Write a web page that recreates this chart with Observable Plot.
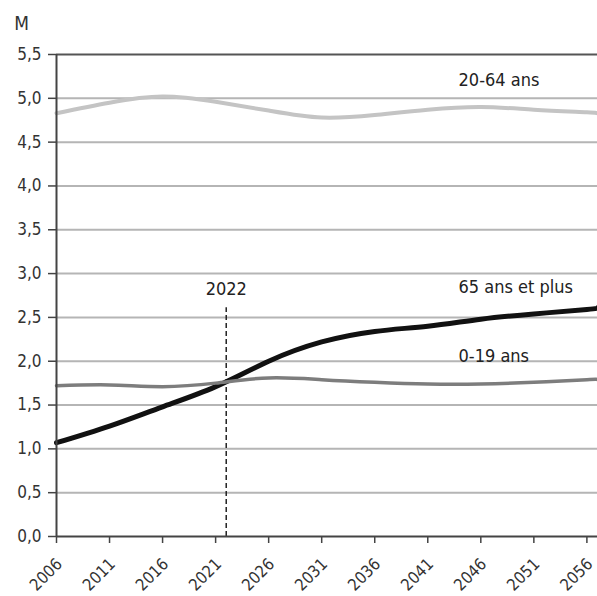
<!DOCTYPE html>
<html>
<head>
<meta charset="utf-8">
<script src="https://cdn.jsdelivr.net/npm/d3@7"></script>
<script src="https://cdn.jsdelivr.net/npm/@observablehq/plot@0.6"></script>
<style>
  html, body { margin: 0; padding: 0; background: #fff; }
  #chart svg { display: block; }
</style>
</head>
<body>
<div id="chart"></div>
<script>
const years = [2006, 2011, 2016, 2021, 2026, 2031, 2036, 2041, 2046, 2051, 2056, 2057];
const age2064 = [4.83, 4.95, 5.02, 4.96, 4.86, 4.78, 4.81, 4.87, 4.90, 4.87, 4.84, 4.83];
const age65 = [1.07, 1.26, 1.48, 1.71, 2.00, 2.22, 2.34, 2.40, 2.48, 2.54, 2.59, 2.61];
const age019 = [1.72, 1.73, 1.71, 1.75, 1.81, 1.79, 1.76, 1.74, 1.74, 1.76, 1.79, 1.79];

const xTicks = [2006, 2011, 2016, 2021, 2026, 2031, 2036, 2041, 2046, 2051, 2056];
const yTicks = [0, 0.5, 1, 1.5, 2, 2.5, 3, 3.5, 4, 4.5, 5, 5.5];

const seriesNames = ["20-64 ans", "65 ans et plus", "0-19 ans"];
const seriesValues = [age2064, age65, age019];
const seriesColors = ["#c4c4c4", "#111111", "#7d7d7d"];
const seriesWidths = [4, 5, 3.5];

// label anchor positions, in data units (year, millions)
const labelYears = [2043.9, 2043.9, 2043.9];
const labelValues = [5.21, 2.84, 2.06];

const markerYear = 2022;
const markerTop = 2.61;
const markerLabelValue = 2.82;

const fmt = d => d3.format(".1f")(d).replace(".", ",");
const font = '"Liberation Sans Narrow", "DejaVu Sans Condensed", "Arial Narrow", sans-serif';

const rows = [];
seriesNames.forEach((name, i) => {
  years.forEach((yr, j) => rows.push({series: name, year: yr, value: seriesValues[i][j]}));
});
const labels = seriesNames.map((name, i) => ({label: name, year: labelYears[i], value: labelValues[i]}));

const chart = Plot.plot({
  width: 597,
  height: 596,
  marginLeft: 56,
  marginRight: 0,
  marginTop: 54,
  marginBottom: 60,
  style: {fontFamily: font, fontSize: "17px", color: "#333", background: "#fff"},
  x: {domain: [2006, 2057]},
  y: {domain: [0, 5.5]},
  marks: [
    Plot.ruleY(yTicks.filter(d => d > 0 && d < 5.5), {stroke: "#b5b5b5", strokeWidth: 2}),
    Plot.ruleY([5.5], {stroke: "#555", strokeWidth: 2}),
    Plot.axisY({ticks: yTicks, tickFormat: fmt, tickSize: 8, tickPadding: 7, stroke: "#444", strokeWidth: 1.5, fill: "#333", fontSize: 17, label: null}),
    Plot.ruleX(xTicks, {x: d => d, y1: 0, y2: 0, insetBottom: -7, stroke: "#444", strokeWidth: 1.5}),
    Plot.axisX({ticks: xTicks, tickFormat: d => String(d), tickSize: 0, tickRotate: -45, dx: 3, dy: 13, fill: "#333", fontSize: 16.5, label: null}),
    Plot.ruleX([{year: markerYear, top: markerTop}], {x: "year", y1: 0, y2: "top", stroke: "#222", strokeWidth: 1.5, strokeDasharray: "5,3"}),
    Plot.text([{year: markerYear, v: markerLabelValue}], {x: "year", y: "v", text: d => String(d.year), fontSize: 18, fill: "#222", textAnchor: "middle"}),
    Plot.line(rows, {x: "year", y: "value", z: "series", stroke: d => seriesColors[seriesNames.indexOf(d.series)], strokeWidth: d => seriesWidths[seriesNames.indexOf(d.series)], curve: "natural"}),
    Plot.ruleX([2006], {stroke: "#444", strokeWidth: 2}),
    Plot.ruleY([0], {stroke: "#444", strokeWidth: 2}),
    Plot.text(labels, {x: "year", y: "value", text: "label", textAnchor: "start", fontSize: 18, fill: "#222"}),
    Plot.text(["M"], {frameAnchor: "top-left", dx: -35, dy: -38, fontSize: 19, fill: "#333", textAnchor: "middle"})
  ]
});
document.getElementById("chart").appendChild(chart);
</script>
</body>
</html>
